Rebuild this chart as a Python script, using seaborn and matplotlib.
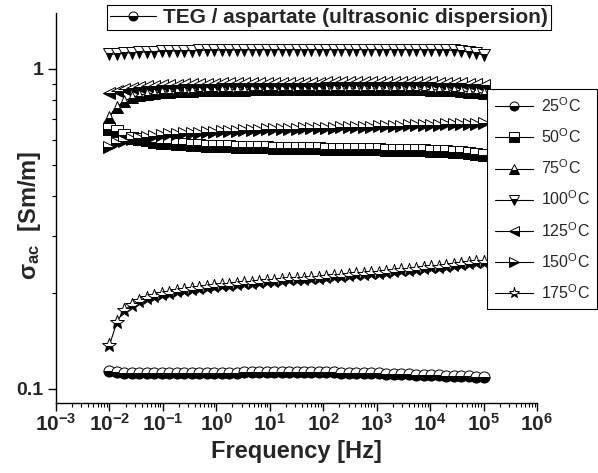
import numpy as np
import pandas as pd
import matplotlib
matplotlib.use("Agg")
import matplotlib.pyplot as plt
from matplotlib.lines import Line2D
import seaborn as sns

# ---------------- data ----------------
freq = np.logspace(-2, 5, 51)  # measured frequency sweep [Hz]

s25 = [0.1140, 0.1128, 0.1125, 0.1122, 0.1120, 0.1120, 0.1120, 0.1120, 0.1121, 0.1121,
       0.1122, 0.1122, 0.1123, 0.1123, 0.1124, 0.1124, 0.1125, 0.1125, 0.1126, 0.1126,
       0.1126, 0.1127, 0.1127, 0.1127, 0.1127, 0.1128, 0.1128, 0.1128, 0.1127, 0.1127,
       0.1126, 0.1125, 0.1124, 0.1123, 0.1122, 0.1120, 0.1118, 0.1116, 0.1114, 0.1112,
       0.1110, 0.1108, 0.1106, 0.1104, 0.1102, 0.1100, 0.1098, 0.1096, 0.1094, 0.1092, 0.1090]
s50 = [0.650, 0.640, 0.622, 0.610, 0.603, 0.598, 0.593, 0.589, 0.586, 0.583,
       0.581, 0.579, 0.578, 0.576, 0.575, 0.574, 0.573, 0.572, 0.571, 0.570,
       0.569, 0.569, 0.568, 0.567, 0.567, 0.566, 0.566, 0.565, 0.565, 0.564,
       0.564, 0.563, 0.563, 0.562, 0.562, 0.561, 0.561, 0.560, 0.560, 0.559,
       0.558, 0.558, 0.557, 0.556, 0.555, 0.554, 0.552, 0.550, 0.547, 0.544, 0.540]
s75 = [0.708, 0.760, 0.794, 0.815, 0.828, 0.836, 0.842, 0.846, 0.850, 0.852,
       0.854, 0.856, 0.857, 0.858, 0.859, 0.860, 0.861, 0.862, 0.862, 0.863,
       0.863, 0.864, 0.864, 0.865, 0.865, 0.865, 0.866, 0.866, 0.866, 0.866,
       0.867, 0.867, 0.867, 0.867, 0.867, 0.867, 0.866, 0.866, 0.866, 0.865,
       0.865, 0.864, 0.863, 0.862, 0.861, 0.859, 0.857, 0.854, 0.850, 0.846, 0.840]
s100 = [1.110, 1.115, 1.120, 1.125, 1.128, 1.131, 1.134, 1.136, 1.138, 1.140,
        1.141, 1.142, 1.143, 1.144, 1.145, 1.146, 1.146, 1.147, 1.147, 1.148,
        1.148, 1.148, 1.149, 1.149, 1.149, 1.149, 1.150, 1.150, 1.150, 1.150,
        1.150, 1.150, 1.150, 1.150, 1.150, 1.150, 1.150, 1.150, 1.150, 1.150,
        1.150, 1.149, 1.149, 1.148, 1.147, 1.146, 1.143, 1.138, 1.130, 1.120, 1.105]
s125 = [0.840, 0.855, 0.866, 0.874, 0.880, 0.884, 0.887, 0.890, 0.892, 0.894,
        0.895, 0.897, 0.898, 0.899, 0.900, 0.901, 0.902, 0.902, 0.903, 0.904,
        0.904, 0.905, 0.905, 0.906, 0.906, 0.906, 0.907, 0.907, 0.907, 0.908,
        0.908, 0.908, 0.908, 0.908, 0.909, 0.909, 0.909, 0.909, 0.909, 0.909,
        0.909, 0.909, 0.908, 0.908, 0.907, 0.906, 0.905, 0.903, 0.900, 0.896, 0.890]
s150 = [0.571, 0.585, 0.596, 0.604, 0.610, 0.615, 0.619, 0.622, 0.625, 0.627,
        0.629, 0.631, 0.633, 0.635, 0.637, 0.638, 0.640, 0.641, 0.643, 0.644,
        0.645, 0.647, 0.648, 0.649, 0.650, 0.651, 0.652, 0.653, 0.654, 0.655,
        0.656, 0.657, 0.658, 0.659, 0.660, 0.661, 0.662, 0.663, 0.664, 0.665,
        0.666, 0.667, 0.668, 0.669, 0.670, 0.671, 0.672, 0.673, 0.674, 0.675, 0.676]
s175 = [0.137, 0.162, 0.177, 0.183, 0.188, 0.192, 0.195, 0.198, 0.200, 0.202,
        0.204, 0.206, 0.207, 0.209, 0.210, 0.211, 0.212, 0.213, 0.214, 0.215,
        0.216, 0.217, 0.218, 0.219, 0.220, 0.220, 0.221, 0.222, 0.223, 0.224,
        0.225, 0.226, 0.227, 0.228, 0.229, 0.230, 0.231, 0.232, 0.233, 0.235,
        0.236, 0.237, 0.239, 0.240, 0.241, 0.243, 0.244, 0.246, 0.247, 0.249, 0.250]

temps = ["25", "50", "75", "100", "125", "150", "175"]
series = [s25, s50, s75, s100, s125, s150, s175]
markers = ["o", "s", "^", "v", "<", ">", "*"]
title_label = "TEG / aspartate (ultrasonic dispersion)"
xtick_exps = [-3, -2, -1, 0, 1, 2, 3, 4, 5, 6]

# ---------------- style ----------------
sns.set_style("ticks")
plt.rcParams["font.family"] = ["Liberation Sans", "DejaVu Sans"]
plt.rcParams["mathtext.fontset"] = "custom"
plt.rcParams["mathtext.rm"] = "Liberation Sans"
plt.rcParams["mathtext.it"] = "Liberation Sans:italic"
plt.rcParams["mathtext.bf"] = "Liberation Sans:bold"

fig = plt.figure(figsize=(5.98, 4.73), dpi=100)
ax = fig.add_axes([56 / 598, 1 - 403 / 473, (537 - 56) / 598, (403 - 13) / 473])

mk_kw = dict(color="black", linewidth=0.8, fillstyle="bottom",
             markerfacecolor="black", markerfacecoloralt="white",
             markeredgecolor="black", markeredgewidth=0.7)

for t, vals, m in zip(temps, series, markers):
    df = pd.DataFrame({"f": freq, "s": vals})
    kw = dict(mk_kw)
    kw["markersize"] = 10 if m == "*" else 8
    sns.lineplot(data=df, x="f", y="s", ax=ax, marker=m, legend=False, **kw)

ax.set_xscale("log")
ax.set_yscale("log")
ax.set_xlim(1e-3, 1e6)
ax.set_ylim(0.0904, 1.496)

ax.set_xticks([10.0 ** e for e in xtick_exps])
ax.set_xticklabels([r"$\mathbf{10^{%d}}$" % e for e in xtick_exps])
ax.set_yticks([0.1, 1])
ax.set_yticklabels(["0.1", "1"])
ax.yaxis.set_minor_formatter(matplotlib.ticker.NullFormatter())
ax.xaxis.set_minor_locator(matplotlib.ticker.LogLocator(base=10, subs=np.arange(2, 10), numticks=20))
ax.xaxis.set_minor_formatter(matplotlib.ticker.NullFormatter())

for lab in ax.get_xticklabels():
    lab.set_fontweight("bold")
    lab.set_fontsize(15)
for lab in ax.get_yticklabels():
    lab.set_fontweight("bold")
    lab.set_fontsize(14)

ax.tick_params(axis="both", which="major", direction="out", length=6, width=1, color="black")
ax.tick_params(axis="x", which="major", pad=1)
ax.tick_params(axis="y", which="major", pad=3)
ax.tick_params(axis="both", which="minor", direction="out", length=3, width=0.8, color="black")

for sp in ["top", "right"]:
    ax.spines[sp].set_visible(False)
for sp in ["left", "bottom"]:
    ax.spines[sp].set_color("black")
    ax.spines[sp].set_linewidth(1)

ax.set_xlabel("Frequency [Hz]", fontsize=17, fontweight="bold", labelpad=4)
ax.set_ylabel(r"σ$_{\mathbf{ac}}$  [Sm/m]", fontsize=17, fontweight="bold")
ax.yaxis.set_label_coords(-0.028, 0.48)

# legends
def handle(m):
    kw = dict(mk_kw)
    kw["markersize"] = 8 if m == "*" else 6.5
    return Line2D([], [], marker=m, **kw)

leg1 = fig.legend([handle("o")], [title_label], loc="upper left",
                  bbox_to_anchor=(107 / 598, 1 - 5 / 473), frameon=True, fancybox=False,
                  edgecolor="black", framealpha=1, handlelength=2.2, borderpad=0.15,
                  handletextpad=0.35, borderaxespad=0,
                  prop={"weight": "bold", "size": 15})
leg1.get_frame().set_linewidth(0.8)

labels = [r"%s$^{\mathrm{O}}$C" % t for t in temps]
leg2 = fig.legend([handle(m) for m in markers], labels, loc="upper right",
                  bbox_to_anchor=(597 / 598, 1 - 89 / 473), frameon=True, fancybox=False,
                  edgecolor="black", framealpha=1, handlelength=2.4, borderpad=0.45,
                  handletextpad=0.5, labelspacing=0.78, borderaxespad=0,
                  prop={"size": 11.5})
leg2.get_frame().set_linewidth(0.8)

fig.savefig("out.png", dpi=100)
